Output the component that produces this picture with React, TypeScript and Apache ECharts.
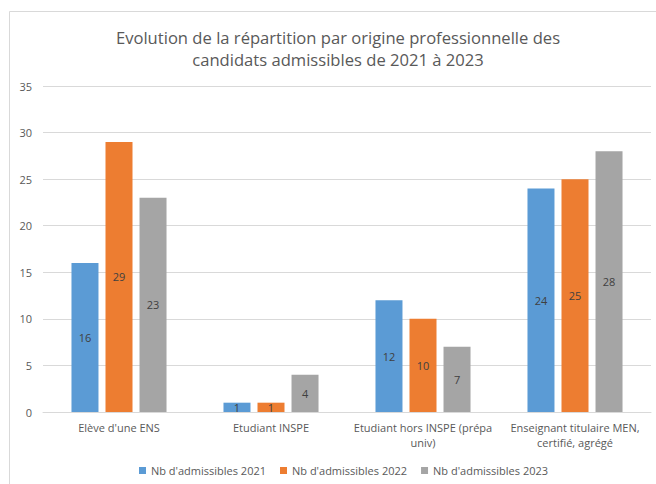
import React, { useEffect, useRef } from "react";
import * as echarts from "echarts";

const categories = [
  "Elève d'une ENS",
  "Etudiant INSPE",
  "Etudiant hors INSPE (prépa\nuniv)",
  "Enseignant titulaire MEN,\ncertifié, agrégé",
];
const seriesNames = ["Nb d'admissibles 2021", "Nb d'admissibles 2022", "Nb d'admissibles 2023"];
const values2021 = [16, 1, 12, 24];
const values2022 = [29, 1, 10, 25];
const values2023 = [23, 4, 7, 28];
const colors = ["#5B9BD5", "#ED7D31", "#A5A5A5"];
const titleLines = [
  "Evolution de la répartition par origine professionnelle des",
  "candidats admissibles de 2021 à 2023",
];

const FONT = "'Open Sans', 'Liberation Sans', sans-serif";

export default function App() {
  const ref = useRef<HTMLDivElement>(null);
  useEffect(() => {
    if (!ref.current) return;
    const chart = echarts.init(ref.current, null, { renderer: "svg" });
    const data = [values2021, values2022, values2023];
    chart.setOption({
      animation: false,
      backgroundColor: "#ffffff",
      textStyle: { fontFamily: FONT },
      graphic: [
        {
          type: "rect",
          silent: true,
          shape: { x: 9.5, y: 11.5, width: 700, height: 600 },
          style: { fill: "none", stroke: "#d9d9d9", lineWidth: 1 },
        },
        {
          type: "text",
          x: 338,
          y: 37,
          style: {
            text: titleLines[0],
            fill: "#595959",
            fontSize: 16.6,
            fontFamily: FONT,
            textAlign: "center",
            textVerticalAlign: "middle",
          },
        },
        {
          type: "text",
          x: 338,
          y: 59,
          style: {
            text: titleLines[1],
            fill: "#595959",
            fontSize: 16.6,
            fontFamily: FONT,
            textAlign: "center",
            textVerticalAlign: "middle",
          },
        },
      ],
      legend: {
        left: 134,
        top: 460,
        itemWidth: 7,
        itemHeight: 7,
        itemGap: 14,
        icon: "rect",
        textStyle: { color: "#595959", fontSize: 11, fontFamily: FONT },
        data: seriesNames,
      },
      grid: { left: 43, right: 5, top: 86, bottom: 72 },
      xAxis: {
        type: "category",
        data: categories,
        axisLine: { lineStyle: { color: "#d9d9d9" } },
        axisTick: { show: false },
        axisLabel: {
          color: "#595959",
          fontSize: 11,
          margin: 8,
          lineHeight: 15,
          interval: 0,
          fontFamily: FONT,
        },
      },
      yAxis: {
        type: "value",
        min: 0,
        max: 35,
        interval: 5,
        axisLine: { show: false },
        axisTick: { show: false },
        axisLabel: { color: "#595959", fontSize: 11, margin: 11, fontFamily: FONT },
        splitLine: { lineStyle: { color: "#d9d9d9" } },
      },
      series: seriesNames.map((name, i) => ({
        name,
        type: "bar",
        data: data[i],
        barWidth: 27,
        barGap: "26%",
        itemStyle: { color: colors[i] },
        label: {
          show: true,
          position: "inside",
          color: "#404040",
          fontSize: 11,
          fontFamily: FONT,
        },
      })),
    });
    return () => chart.dispose();
  }, []);
  return (
    <div
      ref={ref}
      style={{ position: "fixed", left: 0, top: 0, width: 656, height: 484 }}
    />
  );
}
